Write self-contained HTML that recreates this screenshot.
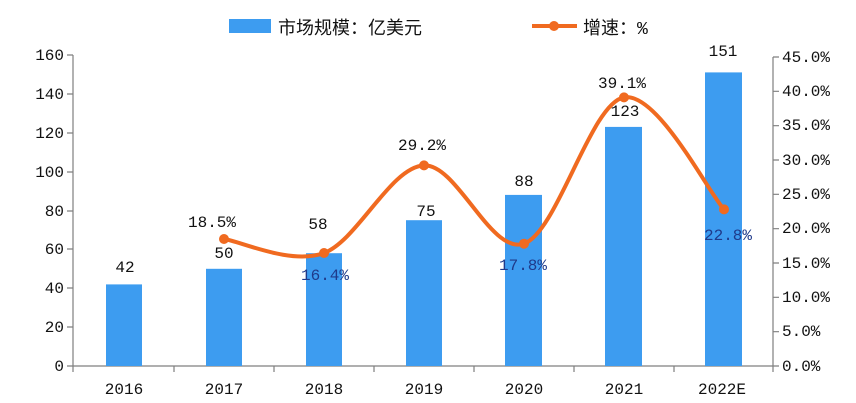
<!DOCTYPE html>
<html><head><meta charset="utf-8"><style>
html,body{margin:0;padding:0;background:#fff}
svg{display:block}
text{font-family:"Liberation Mono","Noto Sans CJK SC",monospace;font-size:16px;fill:#111}
.c{text-anchor:middle}
.r{text-anchor:end}
.b{fill:#1f3a8a}
</style></head><body>
<svg width="856" height="403" viewBox="0 0 856 403">
<g stroke="#7f7f7f" stroke-width="1.2" fill="none">
<line x1="73" y1="55" x2="73" y2="366"/>
<line x1="73" y1="366" x2="773" y2="366"/>
<line x1="773" y1="57" x2="773" y2="366"/>
<path d="M67 55H73M67 94H73M67 133H73M67 172H73M67 211H73M67 249H73M67 288H73M67 327H73M67 366H73"/>
<path d="M73 366V372M174 366V372M274 366V372M374 366V372M474 366V372M574 366V372M674 366V372M773 366V372"/>
<path d="M773 57H779M773 91.3H779M773 125.7H779M773 160H779M773 194.3H779M773 228.7H779M773 263H779M773 297.3H779M773 331.7H779M773 366H779"/>
</g>
<g fill="#3d9cf0">
<rect x="106" y="284.4" width="36" height="81.6"/>
<rect x="206" y="268.8" width="36" height="97.2"/>
<rect x="306" y="253.2" width="36" height="112.8"/>
<rect x="406" y="220.2" width="36" height="145.8"/>
<rect x="505" y="194.9" width="37" height="171.1"/>
<rect x="605" y="126.9" width="37" height="239.1"/>
<rect x="705" y="72.4" width="37" height="293.6"/>
</g>
<path d="M224 239C240.7 241.3 290.7 265.3 324 253C357.3 240.7 390.7 166.95 424 165.4C457.3 163.85 490.7 255 524 243.7C557.3 232.4 590.7 103.1 624 97.4C657.3 91.7 707.3 190.7 724 209.4" stroke="#f06a20" stroke-width="4" fill="none"/>
<g fill="#f06a20">
<circle cx="224" cy="239" r="5"/><circle cx="324" cy="253" r="5"/><circle cx="424" cy="165.4" r="5"/><circle cx="524" cy="243.7" r="5"/><circle cx="624" cy="97.4" r="5"/><circle cx="724" cy="209.4" r="5"/>
</g>
<text x="64" y="60" class="r">160</text><text x="64" y="99" class="r">140</text><text x="64" y="138" class="r">120</text><text x="64" y="177" class="r">100</text><text x="64" y="216" class="r">80</text><text x="64" y="254" class="r">60</text><text x="64" y="293" class="r">40</text><text x="64" y="332" class="r">20</text><text x="64" y="371" class="r">0</text>
<text x="782" y="62">45.0%</text><text x="782" y="96">40.0%</text><text x="782" y="130">35.0%</text><text x="782" y="165">30.0%</text><text x="782" y="199">25.0%</text><text x="782" y="233">20.0%</text><text x="782" y="268">15.0%</text><text x="782" y="302">10.0%</text><text x="782" y="336">5.0%</text><text x="782" y="371">0.0%</text>
<text x="124" y="394" class="c">2016</text><text x="224" y="394" class="c">2017</text><text x="324" y="394" class="c">2018</text><text x="424" y="394" class="c">2019</text><text x="524" y="394" class="c">2020</text><text x="624" y="394" class="c">2021</text><text x="722" y="394" class="c">2022E</text>
<text x="125" y="272" class="c">42</text><text x="224" y="258" class="c">50</text><text x="318" y="229" class="c">58</text><text x="426" y="216" class="c">75</text><text x="524" y="186" class="c">88</text><text x="625" y="116" class="c">123</text><text x="723" y="56" class="c">151</text>
<text x="212" y="227" class="c">18.5%</text><text x="325" y="280" class="c b">16.4%</text><text x="422" y="150" class="c">29.2%</text><text x="523" y="270" class="c b">17.8%</text><text x="622" y="88" class="c">39.1%</text><text x="728" y="240" class="c b">22.8%</text>
<rect x="229" y="19" width="42" height="14" fill="#3d9cf0"/>
<text x="278" y="34" style="font-size:18px">市场规模：亿美元</text>
<line x1="532" y1="26" x2="577" y2="26" stroke="#f06a20" stroke-width="4"/>
<circle cx="554" cy="26" r="5" fill="#f06a20"/>
<text x="583" y="34" style="font-size:18px">增速：%</text>
</svg>
</body></html>
